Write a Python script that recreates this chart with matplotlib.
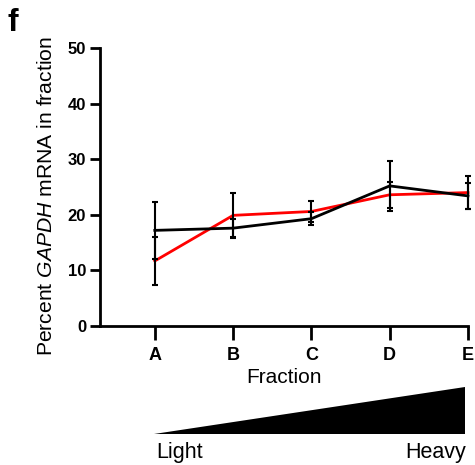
import numpy as np
import matplotlib
matplotlib.use("Agg")
import matplotlib.pyplot as plt
from matplotlib.patches import Polygon

plt.rcParams['font.family'] = ['Liberation Sans', 'DejaVu Sans']
plt.rcParams['mathtext.fontset'] = 'custom'
plt.rcParams['mathtext.rm'] = 'Liberation Sans'
plt.rcParams['mathtext.it'] = 'Liberation Sans:italic'

fractions = ['A', 'B', 'C', 'D', 'E']
red_mean = [11.7, 19.9, 20.6, 23.6, 24.0]
red_err = [4.3, 4.0, 1.9, 2.3, 3.0]
black_mean = [17.2, 17.6, 19.3, 25.2, 23.4]
black_err = [5.1, 1.6, 1.2, 4.5, 2.4]

fig = plt.figure(figsize=(4.75, 4.65), dpi=100)
ax = fig.add_axes([100 / 475, 1 - 326 / 465, 368 / 475, 278 / 465])

x = np.arange(len(fractions))
for mean, err, col in [(red_mean, red_err, '#ff0000'), (black_mean, black_err, 'black')]:
    ax.plot(x, mean, color=col, lw=2, clip_on=False, zorder=3)
    ax.errorbar(x, mean, yerr=err, fmt='none', ecolor='black', elinewidth=1.5,
                capsize=2.5, capthick=1.5, clip_on=False, zorder=4)

ax.set_xlim(-0.70, 4.0)
ax.set_ylim(0, 50)
ax.set_yticks([0, 10, 20, 30, 40, 50])
ax.set_xticks(x)
ax.set_xticklabels(fractions, fontsize=13, fontweight='bold')
for lab in ax.get_yticklabels():
    lab.set_fontweight('bold')
    lab.set_fontsize(12)
ax.spines['top'].set_visible(False)
ax.spines['right'].set_visible(False)
ax.spines['left'].set_linewidth(2)
ax.spines['bottom'].set_linewidth(2)
ax.tick_params(axis='y', length=7, width=2, pad=3)
ax.tick_params(axis='x', length=10, width=2, pad=5)
ax.set_xlabel('Fraction', fontsize=15, labelpad=3)
ax.set_ylabel(r'Percent $\it{GAPDH}$ mRNA in fraction', fontsize=15.2)
ax.yaxis.set_label_coords(-0.12, 0.466)

fig.text(8 / 475, 1 - 23 / 465, 'f', fontsize=23, fontweight='bold', va='center')

# light-to-heavy wedge under the axis
wedge = np.array([(154, 465 - 434), (465, 465 - 434), (465, 465 - 387)]) / 100.0
tri = Polygon(wedge, closed=True, facecolor='black', edgecolor='none',
              transform=fig.dpi_scale_trans)
fig.patches.append(tri)
fig.text(156 / 475, 1 - 452 / 465, 'Light', fontsize=15.5, va='center', ha='left')
fig.text(466 / 475, 1 - 452 / 465, 'Heavy', fontsize=15.5, va='center', ha='right')

fig.savefig('out.png', dpi=100)
